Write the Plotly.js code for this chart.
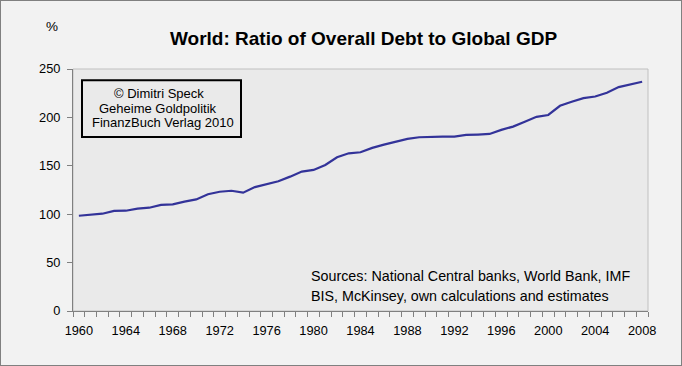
<!DOCTYPE html>
<html>
<head>
<meta charset="utf-8">
<script src="https://cdn.plot.ly/plotly-3.0.1.min.js"></script>
<style>
  html, body { margin: 0; padding: 0; background: #F2F2F2; }
  #chart { width: 680px; height: 364px; border: 1px solid #808080; }
</style>
</head>
<body>
<div id="chart"></div>
<script>
// ---- Data ----
const years = [1960,1961,1962,1963,1964,1965,1966,1967,1968,1969,
               1970,1971,1972,1973,1974,1975,1976,1977,1978,1979,
               1980,1981,1982,1983,1984,1985,1986,1987,1988,1989,
               1990,1991,1992,1993,1994,1995,1996,1997,1998,1999,
               2000,2001,2002,2003,2004,2005,2006,2007,2008];
const debtRatio = [98.4, 99.5, 100.5, 103.4, 103.6, 105.8, 106.7, 109.6, 110.1, 113.0,
                   115.3, 120.6, 123.2, 124.2, 122.2, 128.0, 131.0, 134.0, 138.8, 144.0,
                   145.7, 150.8, 158.8, 162.9, 164.0, 168.5, 171.9, 174.7, 177.8, 179.5,
                   180.2, 180.2, 180.2, 181.9, 182.3, 182.9, 187.1, 190.5, 195.4, 200.6,
                   202.5, 212.0, 216.1, 219.9, 221.6, 225.4, 231.3, 234.4, 236.8];
const xTickVals = [1960,1964,1968,1972,1976,1980,1984,1988,1992,1996,2000,2004,2008];
const xTickText = ["1960","1964","1968","1972","1976","1980","1984","1988","1992","1996","2000","2004","2008"];
const yTickVals = [0,50,100,150,200,250];
const titleText = "World: Ratio of Overall Debt to Global GDP";
const unitText = "%";
const creditLines = ["© Dimitri Speck", "Geheime Goldpolitik", "FinanzBuch Verlag 2010"];
const sourceLines = ["Sources: National Central banks, World Bank, IMF",
                     "BIS, McKinsey, own calculations and estimates"];

// ---- Layout helpers (page pixels -> paper coords) ----
const W = 680, H = 364;
const M = {l: 72, r: 33, t: 68, b: 54};
const PW = W - M.l - M.r, PH = H - M.t - M.b;
const px = x => (x - 1 - M.l) / PW;
const py = y => 1 - (y - 1 - M.t) / PH;

const FONT = '"Liberation Sans", Arial, sans-serif';

const trace = {
  x: years, y: debtRatio, type: 'scatter', mode: 'lines',
  line: {color: '#333399', width: 2.2},
  hoverinfo: 'skip', showlegend: false
};

const annotations = [];
annotations.push({xref:'paper', yref:'paper', x: px(363.5), y: py(39), text: '<b>' + titleText + '</b>',
  showarrow:false, xanchor:'center', yanchor:'middle', font:{family:FONT, size:19, color:'#000'}});
annotations.push({xref:'paper', yref:'paper', x: px(52), y: py(27), text: unitText,
  showarrow:false, xanchor:'center', yanchor:'middle', font:{family:FONT, size:13.5, color:'#000'}});
const creditX = [159.2, 158, 163.3];
const creditY = [93.3, 108.3, 122.7];
creditLines.forEach((t, i) => annotations.push({xref:'paper', yref:'paper', x: px(creditX[i]), y: py(creditY[i]),
  text: t, showarrow:false, xanchor:'center', yanchor:'middle', font:{family:FONT, size:13, color:'#000'}}));
const srcY = [275.5, 295.5];
sourceLines.forEach((t, i) => annotations.push({xref:'paper', yref:'paper', x: px(308.5), y: py(srcY[i]),
  text: t, showarrow:false, xanchor:'left', yanchor:'middle', font:{family:FONT, size:14.3, color:'#000'}}));

const shapes = [
  // plot area border (light)
  {type:'rect', xref:'paper', yref:'paper', x0:0, x1:1, y0:0, y1:1, line:{color:'#C0C0C0', width:1}, fillcolor:'rgba(0,0,0,0)', layer:'below'},
  // credit box
  {type:'rect', xref:'paper', yref:'paper', x0:px(82), x1:px(241), y0:py(80.2), y1:py(137), line:{color:'#000', width:2}, fillcolor:'rgba(0,0,0,0)'}
];

const layout = {
  width: W, height: H,
  margin: M,
  paper_bgcolor: '#F2F2F2',
  plot_bgcolor: '#EAEAEA',
  font: {family: FONT, size: 12.5, color: '#000'},
  showlegend: false,
  xaxis: {
    range: [1959.5, 2008.5],
    tickmode: 'array', tickvals: xTickVals, ticktext: xTickText,
    ticks: '', showgrid: false, zeroline: false,
    showline: true, linecolor: '#808080', linewidth: 1,
    tickfont: {family: FONT, size: 12.8, color: '#000'},
    minor: {tickmode: 'linear', tick0: 1959.5, dtick: 1, ticks: 'outside', ticklen: 5, tickcolor: '#808080', tickwidth: 1, showgrid: false},
    ticklabelstandoff: 8,
    fixedrange: true
  },
  yaxis: {
    range: [0, 250],
    tickmode: 'array', tickvals: yTickVals,
    ticks: 'outside', ticklen: 5, tickcolor: '#808080', tickwidth: 1,
    showgrid: false, zeroline: false,
    showline: true, linecolor: '#808080', linewidth: 1,
    tickfont: {family: FONT, size: 12.8, color: '#000'},
    ticklabelstandoff: 4,
    fixedrange: true
  },
  annotations: annotations,
  shapes: shapes
};

Plotly.newPlot('chart', [trace], layout, {staticPlot: true, displayModeBar: false});
</script>
</body>
</html>
